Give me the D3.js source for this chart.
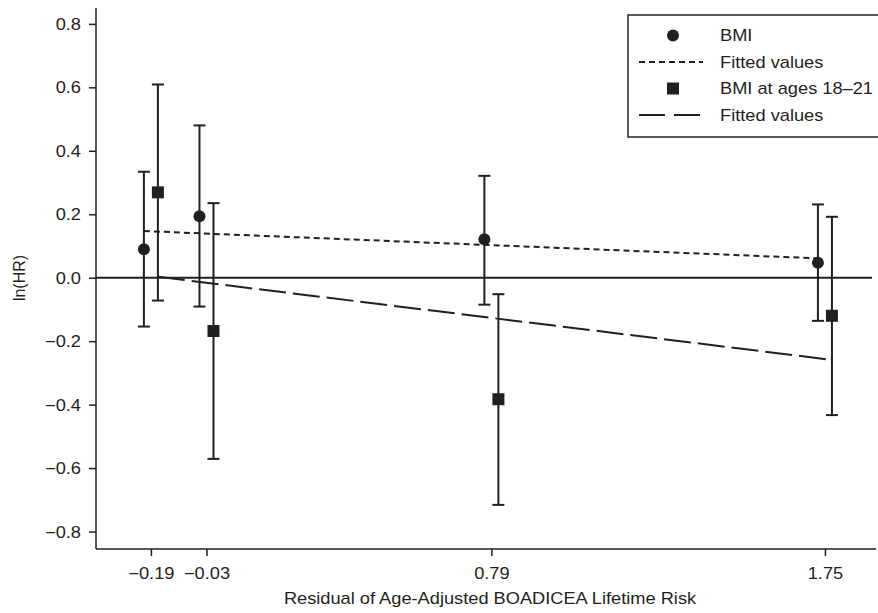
<!DOCTYPE html>
<html>
<head>
<meta charset="utf-8">
<script src="https://cdn.jsdelivr.net/npm/d3@7"></script>
<style>
  body { margin: 0; background: #fff; }
  svg text { font-family: "Liberation Sans", Arial, sans-serif; fill: #231f20; }
</style>
</head>
<body>
<svg id="chart" width="878" height="613"></svg>
<script>
// values
var xTicks = [-0.19, -0.03, 0.79, 1.75];
var yTicks = [-0.8, -0.6, -0.4, -0.2, 0.0, 0.2, 0.4, 0.6, 0.8];

var bmi = [0.090, 0.194, 0.121, 0.047];
var bmiLo = [-0.154, -0.091, -0.085, -0.136];
var bmiHi = [0.334, 0.480, 0.321, 0.231];

var young = [0.269, -0.168, -0.383, -0.120];
var youngLo = [-0.072, -0.571, -0.716, -0.433];
var youngHi = [0.609, 0.235, -0.052, 0.192];

// fitted values at first and last point
var bmiFit = [0.147, 0.061];
var youngFit = [0.003, -0.259];

var legendLabels = ["BMI", "Fitted values", "BMI at ages 18\u201321", "Fitted values"];

var ink = "#231f20";
var stretch = 1.14;   // text in the picture is a bit wide
var jitter = 7;       // px offset of the two series around each tick

var svg = d3.select("#chart");

var x = d3.scaleLinear().domain([-0.348, 1.897]).range([96, 876]);
var y = d3.scaleLinear().domain([-0.855, 0.85]).range([549, 8]);

function label(sel, tx, ty) {
	return sel.attr("transform", "translate(" + tx + "," + ty + ") scale(" + stretch + ",1)");
}

// axes
var yAxis = svg.append("g")
	.attr("transform", "translate(96,0)")
	.call(d3.axisLeft(y).tickValues(yTicks).tickSize(7).tickFormat(d3.format(".1f")));
yAxis.select(".domain").attr("d", "M0," + y.range()[1] + "V" + y.range()[0]);

var xAxis = svg.append("g")
	.attr("transform", "translate(0,549)")
	.call(d3.axisBottom(x).tickValues(xTicks).tickSize(7).tickFormat(d3.format(".2f")));
xAxis.select(".domain").attr("d", "M96,0H876");

svg.selectAll(".domain, .tick line").attr("stroke", ink).attr("stroke-width", 1.5);

yAxis.selectAll(".tick text").each(function(d){
	var t = d3.select(this);
	t.attr("x", null).attr("dy", null).attr("y", null)
		.style("font-size", "16px").attr("dominant-baseline", "central")
		.text(d3.format(".1f")(d).replace("-", "\u2013"));
	label(t, -15, 0);
});
xAxis.selectAll(".tick text").each(function(d){
	var t = d3.select(this);
	t.attr("y", null).attr("dy", null)
		.style("font-size", "16px")
		.text(d3.format(".2f")(d).replace("-", "\u2013"));
	label(t, 0, 30);
});
svg.selectAll(".tick text").attr("fill", ink);

label(svg.append("text"), 490, 604)
	.attr("text-anchor", "middle")
	.style("font-size", "16px")
	.text("Residual of Age-Adjusted BOADICEA Lifetime Risk");

svg.append("text")
	.attr("transform", "translate(25,278) rotate(-90)")
	.attr("text-anchor", "middle")
	.style("font-size", "16px")
	.text("ln(HR)");

// zero line
svg.append("line")
	.attr("x1", 96).attr("x2", 872)
	.attr("y1", y(0)).attr("y2", y(0))
	.attr("stroke", ink).attr("stroke-width", 2);

// fitted lines
var n = xTicks.length - 1;
svg.append("line")
	.attr("x1", x(xTicks[0]) - jitter).attr("x2", x(xTicks[n]) - jitter)
	.attr("y1", y(bmiFit[0])).attr("y2", y(bmiFit[1]))
	.attr("stroke", ink).attr("stroke-width", 2)
	.attr("stroke-dasharray", "6,4");
svg.append("line")
	.attr("x1", x(xTicks[0]) + jitter).attr("x2", x(xTicks[n]) + jitter)
	.attr("y1", y(youngFit[0])).attr("y2", y(youngFit[1]))
	.attr("stroke", ink).attr("stroke-width", 2)
	.attr("stroke-dasharray", "27,7");

// error bars
function bars(vals, lo, hi, off) {
	var g = svg.append("g");
	var cap = 6;
	vals.forEach(function(v, i){
		var cx = x(xTicks[i]) + off;
		g.append("line").attr("x1", cx).attr("x2", cx)
			.attr("y1", y(lo[i])).attr("y2", y(hi[i]));
		g.append("line").attr("x1", cx - cap).attr("x2", cx + cap)
			.attr("y1", y(lo[i])).attr("y2", y(lo[i]));
		g.append("line").attr("x1", cx - cap).attr("x2", cx + cap)
			.attr("y1", y(hi[i])).attr("y2", y(hi[i]));
	});
	g.selectAll("line").attr("stroke", ink).attr("stroke-width", 2);
}
bars(bmi, bmiLo, bmiHi, -jitter);
bars(young, youngLo, youngHi, jitter);

svg.selectAll(".bmi")
	.data(bmi)
	.enter()
	.append("circle")
	.attr("cx", function(d, i){ return x(xTicks[i]) - jitter; })
	.attr("cy", function(d){ return y(d); })
	.attr("r", 6)
	.style("fill", ink);

svg.selectAll(".young")
	.data(young)
	.enter()
	.append("rect")
	.attr("x", function(d, i){ return x(xTicks[i]) + jitter - 6; })
	.attr("y", function(d){ return y(d) - 6; })
	.attr("width", 12)
	.attr("height", 12)
	.style("fill", ink);

// legend
var leg = svg.append("g");
leg.append("rect")
	.attr("x", 628).attr("y", 15).attr("width", 270).attr("height", 122)
	.attr("fill", "#fff").attr("stroke", ink).attr("stroke-width", 1.5);

var rowY = [35.5, 62, 88.5, 115];
leg.append("circle").attr("cx", 673).attr("cy", rowY[0]).attr("r", 6).style("fill", ink);
leg.append("line").attr("x1", 639).attr("x2", 703).attr("y1", rowY[1]).attr("y2", rowY[1])
	.attr("stroke", ink).attr("stroke-width", 2).attr("stroke-dasharray", "6,4");
leg.append("rect").attr("x", 667).attr("y", rowY[2] - 6).attr("width", 12).attr("height", 12).style("fill", ink);
leg.append("line").attr("x1", 639).attr("x2", 700).attr("y1", rowY[3]).attr("y2", rowY[3])
	.attr("stroke", ink).attr("stroke-width", 2).attr("stroke-dasharray", "26,9");

leg.selectAll(".lab")
	.data(legendLabels)
	.enter()
	.append("text")
	.style("font-size", "16px")
	.attr("dominant-baseline", "central")
	.text(function(d){ return d; })
	.each(function(d, i){ label(d3.select(this), 720, rowY[i]); });
</script>
</body>
</html>
